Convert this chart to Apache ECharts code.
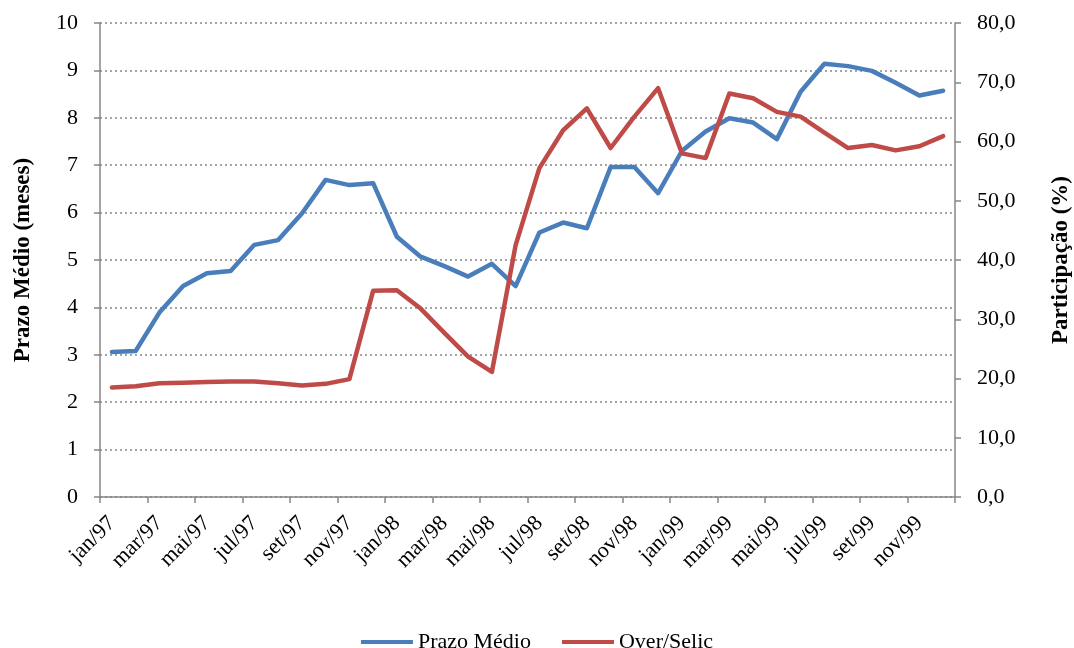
<!DOCTYPE html>
<html>
<head>
<meta charset="utf-8">
<script src="https://cdn.jsdelivr.net/npm/echarts@6/dist/echarts.min.js"></script>
<style>
  html, body { margin: 0; padding: 0; background: #fff; }
  #main { width: 1074px; height: 648px; }
</style>
</head>
<body>
<div id="main"></div>
<script>
// meses jan/97 .. dez/99
var meses = ['jan','fev','mar','abr','mai','jun','jul','ago','set','out','nov','dez'];
var anos = ['97', '98', '99'];
var categorias = [];
anos.forEach(function (a) {
  meses.forEach(function (m) { categorias.push(m + '/' + a); });
});

// Prazo médio (meses) - eixo esquerdo
var prazoMedio = [
  3.06, 3.08, 3.89, 4.45, 4.72, 4.77, 5.32, 5.42, 5.98, 6.69, 6.58, 6.62,
  5.49, 5.07, 4.87, 4.65, 4.92, 4.45, 5.58, 5.79, 5.67, 6.96, 6.96, 6.41,
  7.30, 7.71, 7.99, 7.90, 7.55, 8.55, 9.14, 9.09, 8.99, 8.74, 8.47, 8.57
];

// Participação Over/Selic (%) - eixo direito
var overSelic = [
  18.5, 18.7, 19.2, 19.3, 19.4, 19.5, 19.5, 19.2, 18.8, 19.1, 19.9, 34.8,
  34.9, 31.8, 27.7, 23.7, 21.1, 42.5, 55.5, 61.9, 65.6, 58.9, 64.2, 69.0,
  58.0, 57.2, 68.1, 67.3, 65.0, 64.2, 61.5, 58.9, 59.4, 58.5, 59.2, 60.9
];

var fonte = '"Liberation Serif", "Times New Roman", serif';
var cinza = '#868686';
var tam = 22;

var chart = echarts.init(document.getElementById('main'));
var option = {
  animation: false,
  textStyle: { fontFamily: fonte, color: '#000' },
  grid: { left: 100, right: 119, top: 23, bottom: 151, containLabel: false, outerBoundsMode: 'none' },
  legend: {
    top: 626,
    left: 'center',
    itemWidth: 52,
    itemHeight: 4,
    itemGap: 31,
    icon: 'rect',
    textStyle: { fontFamily: fonte, fontSize: tam, color: '#000' },
    data: ['Prazo Médio', 'Over/Selic']
  },
  xAxis: {
    type: 'category',
    data: categorias,
    boundaryGap: true,
    axisLine: { lineStyle: { color: cinza, width: 1.5 } },
    axisTick: { show: true, interval: 1, length: 6, lineStyle: { color: cinza, width: 1.5 } },
    axisLabel: {
      interval: 1,
      rotate: 45,
      margin: 23,
      fontSize: tam,
      fontFamily: fonte,
      color: '#000'
    }
  },
  yAxis: [{
    type: 'value',
    min: 0,
    max: 10,
    interval: 1,
    name: 'Prazo Médio (meses)',
    nameLocation: 'middle',
    nameGap: 65,
    nameRotate: 90,
    nameTextStyle: { fontFamily: fonte, fontSize: 23, fontWeight: 'bold', color: '#000' },
    axisLine: { show: true, lineStyle: { color: cinza, width: 1.5 } },
    axisTick: { show: true, length: 6, lineStyle: { color: cinza, width: 1.5 } },
    axisLabel: { fontSize: tam, fontFamily: fonte, color: '#000', margin: 22 },
    splitLine: { show: true, lineStyle: { color: cinza, width: 1.5, type: [2, 3] } }
  }, {
    type: 'value',
    min: 0,
    max: 80,
    interval: 10,
    position: 'right',
    name: 'Participação (%)',
    nameLocation: 'middle',
    nameGap: 95,
    nameRotate: 90,
    nameTextStyle: { fontFamily: fonte, fontSize: 23, fontWeight: 'bold', color: '#000' },
    axisLine: { show: true, lineStyle: { color: cinza, width: 1.5 } },
    axisTick: { show: true, length: 6, lineStyle: { color: cinza, width: 1.5 } },
    axisLabel: {
      fontSize: tam, fontFamily: fonte, color: '#000', margin: 22,
      formatter: function (v) { return v.toFixed(1).replace('.', ','); }
    },
    splitLine: { show: false }
  }],
  series: [{
    name: 'Prazo Médio',
    type: 'line',
    yAxisIndex: 0,
    data: prazoMedio,
    showSymbol: false,
    symbol: 'none',
    itemStyle: { color: '#4a7ebb' },
    lineStyle: { color: '#4a7ebb', width: 4.5, join: 'round', cap: 'round' }
  }, {
    name: 'Over/Selic',
    type: 'line',
    yAxisIndex: 1,
    data: overSelic,
    showSymbol: false,
    symbol: 'none',
    itemStyle: { color: '#be4b48' },
    lineStyle: { color: '#be4b48', width: 4.5, join: 'round', cap: 'round' }
  }]
};
chart.setOption(option);
window.onresize = function () {
  chart.resize();
};
</script>
</body>
</html>
